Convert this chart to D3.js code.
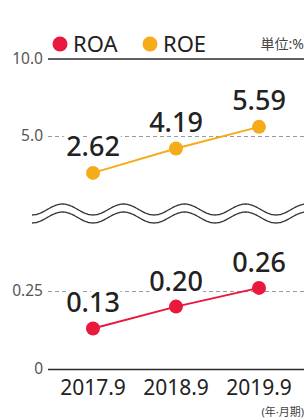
<!DOCTYPE html>
<html>
<head>
<meta charset="utf-8">
<script src="https://cdn.jsdelivr.net/npm/d3@7"></script>
<style>
  body { margin: 0; background: #fff; }
  svg { display: block; font-family: "Noto Sans", "Noto Sans CJK JP", sans-serif; }
</style>
</head>
<body>
<svg class="chart"></svg>
<script>
const categories = ['2017.9', '2018.9', '2019.9']
const roe = [2.62, 4.19, 5.59]
const roa = [0.13, 0.20, 0.26]
const topTicks = [5.0, 10.0]
const bottomTicks = [0, 0.25]

const width = 304, height = 419
const red = '#e8193c', orange = '#f6ac19'
const svg = d3.select('.chart').attr('width', width).attr('height', height)

const x = d3.scalePoint().domain(categories).range([93, 259])
const yTop = d3.scaleLinear().domain([0, 10]).range([213.5, 58.5])
const yBottom = d3.scaleLinear().domain([0, 0.25]).range([369, 291])

function drawAxis(scale, ticks, fmt, solidAt) {
  const g = svg.append('g')
    .attr('transform', 'translate(48,0)')
    .call(d3.axisLeft(scale).tickValues(ticks).tickFormat(fmt).tickSize(-256).tickPadding(5))
  g.select('.domain').remove()
  g.selectAll('.tick text')
    .attr('fill', '#555')
    .style('font-size', '15.5px')
    .style('font-family', '"Noto Sans", sans-serif')
  g.selectAll('.tick line')
    .attr('stroke', d => d === solidAt ? '#2a2a2a' : '#9a9a9a')
    .attr('stroke-width', d => d === solidAt ? 1.6 : 1)
    .attr('stroke-dasharray', d => d === solidAt ? null : '4,3')
}
drawAxis(yTop, topTicks, d3.format('.1f'), 10)
drawAxis(yBottom, bottomTicks, d => d === 0 ? '0' : d3.format('.2f')(d), 0)

// break mark
const wave = d3.line().curve(d3.curveBasis)
const wavePts = off => d3.range(32, 306, 1).map(px => [px, 209.5 + off + 5.5 * Math.cos((px - 32) / 61 * 2 * Math.PI)])
svg.append('path').attr('d', wave(wavePts(0))).attr('fill', 'none').attr('stroke', '#333').attr('stroke-width', 1.3)
svg.append('path').attr('d', wave(wavePts(8))).attr('fill', 'none').attr('stroke', '#333').attr('stroke-width', 1.3)

function drawSeries(values, y, color, offset, fmt) {
  svg.append('g').selectAll('text').data(values).join('text')
    .attr('x', (d, i) => x(categories[i]))
    .attr('y', d => y(d) - offset)
    .attr('text-anchor', 'middle')
    .attr('fill', '#222')
    .attr('stroke', '#fff')
    .attr('stroke-width', 8)
    .attr('paint-order', 'stroke')
    .style('font-size', '27px')
    .style('font-weight', 500)
    .text(fmt)

  svg.append('path')
    .datum(values)
    .attr('fill', 'none')
    .attr('stroke', color)
    .attr('stroke-width', 2)
    .attr('d', d3.line().x((d, i) => x(categories[i])).y(d => y(d)))

  svg.append('g').selectAll('circle').data(values).join('circle')
    .attr('cx', (d, i) => x(categories[i]))
    .attr('cy', d => y(d))
    .attr('r', 7)
    .attr('fill', color)
}
drawSeries(roe, yTop, orange, 17, d3.format('.2f'))
drawSeries(roa, yBottom, red, 16, d3.format('.2f'))

// x labels
svg.append('g').selectAll('text').data(categories).join('text')
  .attr('x', d => x(d))
  .attr('y', 395)
  .attr('text-anchor', 'middle')
  .attr('fill', '#222')
  .style('font-size', '21px')
  .text(d => d)

svg.append('text')
  .attr('x', 304).attr('y', 416)
  .attr('text-anchor', 'end')
  .attr('fill', '#444')
  .style('font-size', '11px')
  .text('(年·月期)')

// legend
const legend = [{ name: 'ROA', color: red, x: 60 }, { name: 'ROE', color: orange, x: 150 }]
const lg = svg.append('g').selectAll('g').data(legend).join('g')
lg.append('circle').attr('cx', d => d.x).attr('cy', 44).attr('r', 7.5).attr('fill', d => d.color)
lg.append('text')
  .attr('x', d => d.x + 13).attr('y', 52)
  .attr('fill', '#222')
  .style('font-size', '22px')
  .text(d => d.name)

svg.append('text')
  .attr('x', 304).attr('y', 49)
  .attr('text-anchor', 'end')
  .attr('fill', '#444')
  .style('font-size', '14px')
  .text('単位:%')
</script>
</body>
</html>
